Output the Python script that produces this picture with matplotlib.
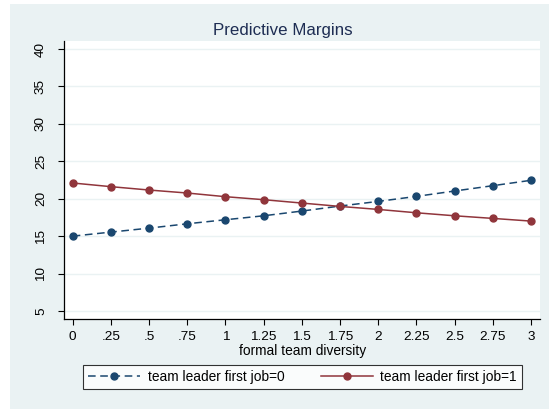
import numpy as np
import matplotlib.pyplot as plt
from matplotlib.patches import Rectangle

plt.rcParams['font.family'] = ['Liberation Sans', 'DejaVu Sans']

# predictive margins
diversity = [0, 0.25, 0.5, 0.75, 1, 1.25, 1.5, 1.75, 2, 2.25, 2.5, 2.75, 3]
first_job0 = [15.0, 15.54, 16.07, 16.65, 17.19, 17.72, 18.35, 19.02, 19.64, 20.31, 21.03, 21.74, 22.46]
first_job1 = [22.10, 21.61, 21.16, 20.76, 20.27, 19.87, 19.42, 18.97, 18.57, 18.12, 17.72, 17.37, 17.01]
xtick_labels = ['0', '.25', '.5', '.75', '1', '1.25', '1.5', '1.75', '2', '2.25', '2.5', '2.75', '3']
yticks = [5, 10, 15, 20, 25, 30, 35, 40]

bg = '#eaf2f3'
navy = '#1a476f'
maroon = '#90353b'

W, H = 549, 409
fig = plt.figure(figsize=(W / 100, H / 100), dpi=100)
fig.patches.append(Rectangle((10 / W, 0), 1 - 10 / W, 1 - 4 / H,
                             transform=fig.transFigure, facecolor=bg,
                             edgecolor='none', zorder=-10))

ax = fig.add_axes([64.3 / W, 1 - 319 / H, (540 - 64.3) / W, (319 - 41) / H])
ax.set_facecolor('white')

ax.plot(diversity, first_job0, color=navy, lw=1.1, dashes=(5, 3),
        marker='o', ms=5, label='team leader first job=0', zorder=3)
ax.plot(diversity, first_job1, color=maroon, lw=1.1,
        marker='o', ms=5, label='team leader first job=1', zorder=3)

ax.set_xlim(-0.055, 3.059)
ax.set_ylim(3.93, 41.07)
ax.set_xticks(diversity)
ax.set_xticklabels(xtick_labels)
ax.set_yticks(yticks)
ax.set_yticklabels([str(v) for v in yticks], rotation=90, va='center')
ax.tick_params(axis='both', direction='out', length=4.5, width=0.8,
               labelsize=9.7, colors='black')
ax.tick_params(axis='x', pad=4)
ax.tick_params(axis='y', pad=8)
ax.grid(axis='y', color=bg, lw=1.0)
ax.set_axisbelow(True)

for s in ['top', 'right']:
    ax.spines[s].set_visible(False)
for s in ['left', 'bottom']:
    ax.spines[s].set_linewidth(0.9)

ax.set_xlabel('formal team diversity', fontsize=9.9, labelpad=1)
fig.text(282.7 / W, 1 - 30 / H, 'Predictive Margins', ha='center', va='center',
         fontsize=12.2, color='#1e2d53')

leg = fig.legend(loc='center', bbox_to_anchor=(302.5 / W, 1 - 377.3 / H),
                 ncol=2, fontsize=9.9, frameon=True, fancybox=False,
                 handlelength=3.78, columnspacing=2.66, handletextpad=0.55,
                 borderpad=0.35)
leg.get_frame().set_edgecolor('black')
leg.get_frame().set_linewidth(0.8)

fig.savefig('out.png', dpi=100)
